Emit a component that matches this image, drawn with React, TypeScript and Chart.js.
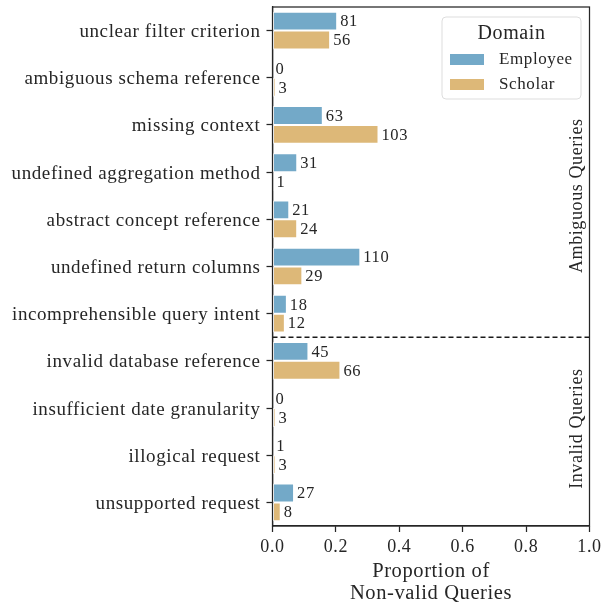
import React, { useEffect, useRef } from "react";
import { Chart, registerables } from "chart.js";

Chart.register(...registerables);

const categories = [
  "unclear filter criterion",
  "ambiguous schema reference",
  "missing context",
  "undefined aggregation method",
  "abstract concept reference",
  "undefined return columns",
  "incomprehensible query intent",
  "invalid database reference",
  "insufficient date granularity",
  "illogical request",
  "unsupported request",
];
const employeeCounts = [81, 0, 63, 31, 21, 110, 18, 45, 0, 1, 27];
const scholarCounts = [56, 3, 103, 1, 24, 29, 12, 66, 3, 3, 8];
const seriesNames = ["Employee", "Scholar"];
const groupLabels = ["Ambiguous Queries", "Invalid Queries"];
const ambiguousCount = 7;
const xTickValues = [0, 0.2, 0.4, 0.6, 0.8, 1.0];
const legendTitle = "Domain";
const xTitle = ["Proportion of", "Non-valid Queries"];

const COLORS = ["#73a9c8", "#ddb878"];
const TEXT = "#262626";
const FONT = "'Liberation Serif', 'DejaVu Serif', serif";
const SPACING = "0.6px";

function toProportions(counts: number[]) {
  const total = counts.reduce((a, b) => a + b, 0);
  return counts.map((c) => c / total);
}

const spacingPlugin = {
  id: "spacing",
  beforeInit(chart: any) {
    chart.ctx.letterSpacing = SPACING;
  },
  beforeLayout(chart: any) {
    chart.ctx.letterSpacing = SPACING;
  },
  beforeDraw(chart: any) {
    chart.ctx.letterSpacing = SPACING;
  },
};

const overlayPlugin = {
  id: "overlay",
  afterDatasetsDraw(chart: any) {
    const { ctx, chartArea } = chart;
    const { left, right, top, bottom } = chartArea;
    ctx.save();
    ctx.letterSpacing = SPACING;
    // value labels
    ctx.font = `16.5px ${FONT}`;
    ctx.fillStyle = TEXT;
    ctx.textAlign = "left";
    ctx.textBaseline = "middle";
    const countsList = [employeeCounts, scholarCounts];
    chart.data.datasets.forEach((ds: any, di: number) => {
      const meta = chart.getDatasetMeta(di);
      meta.data.forEach((el: any, i: number) => {
        ctx.fillText(String(countsList[di][i]), el.x + 3, el.y + 1);
      });
    });
    // dashed separator
    const yScale = chart.scales.y;
    const sepY =
      (yScale.getPixelForValue(ambiguousCount - 1) +
        yScale.getPixelForValue(ambiguousCount)) /
      2;
    ctx.strokeStyle = "#1a1a1a";
    ctx.lineWidth = 1.3;
    ctx.setLineDash([5, 3]);
    ctx.beginPath();
    ctx.moveTo(left, sepY);
    ctx.lineTo(right, sepY);
    ctx.stroke();
    ctx.setLineDash([]);
    // frame
    ctx.strokeStyle = TEXT;
    ctx.lineWidth = 1.25;
    ctx.strokeRect(left, top, right - left, bottom - top);
    // group labels
    ctx.font = `18px ${FONT}`;
    ctx.fillStyle = TEXT;
    ctx.textAlign = "center";
    ctx.textBaseline = "middle";
    const gx = right - 12;
    const g1 = (yScale.getPixelForValue(3) + yScale.getPixelForValue(4)) / 2;
    const g2 = (sepY + bottom) / 2 - 3;
    [
      [groupLabels[0], g1],
      [groupLabels[1], g2],
    ].forEach(([t, cy]: any) => {
      ctx.save();
      ctx.translate(gx, cy);
      ctx.rotate(-Math.PI / 2);
      ctx.fillText(t, 0, 0);
      ctx.restore();
    });
    // legend
    const lx = 442,
      ly = 17,
      lw = 139,
      lh = 82,
      r = 4;
    ctx.beginPath();
    ctx.moveTo(lx + r, ly);
    ctx.lineTo(lx + lw - r, ly);
    ctx.arcTo(lx + lw, ly, lx + lw, ly + r, r);
    ctx.lineTo(lx + lw, ly + lh - r);
    ctx.arcTo(lx + lw, ly + lh, lx + lw - r, ly + lh, r);
    ctx.lineTo(lx + r, ly + lh);
    ctx.arcTo(lx, ly + lh, lx, ly + lh - r, r);
    ctx.lineTo(lx, ly + r);
    ctx.arcTo(lx, ly, lx + r, ly, r);
    ctx.closePath();
    ctx.fillStyle = "rgba(255,255,255,0.85)";
    ctx.fill();
    ctx.strokeStyle = "#dddddd";
    ctx.lineWidth = 1;
    ctx.stroke();
    ctx.fillStyle = TEXT;
    ctx.font = `20px ${FONT}`;
    ctx.textAlign = "center";
    ctx.fillText(legendTitle, lx + lw / 2, ly + 17);
    ctx.font = `17px ${FONT}`;
    ctx.textAlign = "left";
    seriesNames.forEach((name, i) => {
      const cy = ly + 42 + i * 25;
      ctx.fillStyle = COLORS[i];
      ctx.fillRect(lx + 8, cy - 5, 34, 11);
      ctx.fillStyle = TEXT;
      ctx.fillText(name, lx + 57, cy + 1);
    });
    ctx.restore();
  },
};

export default function App() {
  const ref = useRef<HTMLCanvasElement | null>(null);
  useEffect(() => {
    if (!ref.current) return;
    const chart = new Chart(ref.current, {
      type: "bar",
      data: {
        labels: categories,
        datasets: [
          {
            label: seriesNames[0],
            data: toProportions(employeeCounts),
            backgroundColor: COLORS[0],
            borderColor: "#ffffff",
            borderWidth: 1,
            borderSkipped: false,
            categoryPercentage: 0.8,
            barPercentage: 1.0,
          },
          {
            label: seriesNames[1],
            data: toProportions(scholarCounts),
            backgroundColor: COLORS[1],
            borderColor: "#ffffff",
            borderWidth: 1,
            borderSkipped: false,
            categoryPercentage: 0.8,
            barPercentage: 1.0,
          },
        ],
      },
      options: {
        indexAxis: "y",
        responsive: false,
        animation: false,
        devicePixelRatio: 1,
        layout: { padding: { top: 7, right: 13.5, left: 0, bottom: 0 } },
        plugins: {
          legend: { display: false },
          tooltip: { enabled: false },
        },
        scales: {
          x: {
            min: 0,
            max: 1,
            afterFit: (s: any) => {
              s.height = 78;
              s.paddingLeft = 0;
              s.paddingRight = 0;
            },
            afterBuildTicks: (s: any) => {
              s.ticks = xTickValues.map((v) => ({ value: v }));
            },
            border: { display: true, color: TEXT, width: 1.25 },
            grid: {
              drawOnChartArea: false,
              drawTicks: true,
              tickLength: 6,
              tickWidth: 1.25,
              tickColor: TEXT,
            },
            ticks: {
              color: TEXT,
              font: { family: FONT, size: 18 },
              padding: 4,
              callback: (v: any) => Number(v).toFixed(1),
              maxRotation: 0,
            },
            title: {
              display: true,
              text: xTitle,
              color: TEXT,
              font: { family: FONT, size: 20.5, lineHeight: 1.05 },
              padding: { top: 0, bottom: 0 },
            },
          },
          y: {
            afterFit: (s: any) => {
              s.width = 272.5;
              s.paddingTop = 0;
              s.paddingBottom = 0;
            },
            border: { display: true, color: TEXT, width: 1.25 },
            grid: {
              offset: false,
              drawOnChartArea: false,
              drawTicks: true,
              tickLength: 6,
              tickWidth: 1.25,
              tickColor: TEXT,
            },
            ticks: {
              color: TEXT,
              font: { family: FONT, size: 19 },
              padding: 6,
              labelOffset: 1.5,
              autoSkip: false,
            },
          },
        },
      },
      plugins: [spacingPlugin, overlayPlugin],
    });
    return () => chart.destroy();
  }, []);
  return (
    <div style={{ position: "fixed", left: 0, top: 0, width: 603, height: 604, background: "#fff" }}>
      <canvas ref={ref} width={603} height={604} style={{ width: 603, height: 604 }} />
    </div>
  );
}
